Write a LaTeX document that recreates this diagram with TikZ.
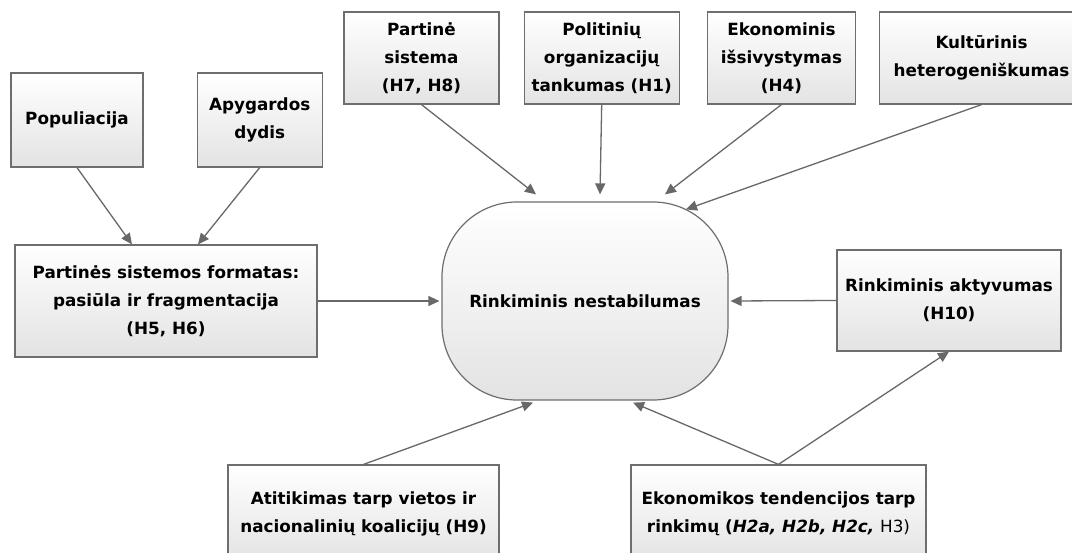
\documentclass[tikz,border=0pt]{standalone}
\usepackage{fontspec}
\setmainfont{DejaVu Sans}
\usetikzlibrary{arrows.meta,positioning}

\definecolor{boxline}{HTML}{6E6E6E}
\definecolor{boxfill}{HTML}{E3E3E3}
\definecolor{arrgray}{HTML}{686868}
\newcommand{\lbl}{\fontsize{16.8}{28}\selectfont\bfseries}

\tikzset{
  box/.style={draw=boxline,line width=1.2pt,top color=white,bottom color=boxfill,
    align=center,inner sep=0pt,font=\lbl},
  hub/.style={box,rounded corners=75pt},
  arr/.style={->,>={Triangle[length=11pt,width=10pt]},
    every edge/.style={draw=arrgray,line width=1.3pt}}
}

\begin{document}
\begin{tikzpicture}[x=1pt,y=-1pt]
  \useasboundingbox (0,0) rectangle (1072,553);
  \clip (0,0) rectangle (1072,553);
  % left column
  \node[box,minimum width=132pt,minimum height=94pt] (pop) at (77,120) {Populiacija};
  \node[box,minimum width=125pt,minimum height=94pt] (apy) [right=53pt of pop] {Apygardos\\dydis};
  \node[box,minimum width=302pt,minimum height=112pt] (form) at (166,301)
    {Partinės sistemos formatas:\\pasiūla ir fragmentacija\\(H5, H6)};
  % top row
  \node[box,minimum width=155pt,minimum height=92pt] (part) at (421.5,58) {Partinė\\sistema\\(H7, H8)};
  \node[box,minimum width=155pt,minimum height=92pt] (pol) [right=24pt of part] {Politinių\\organizacijų\\tankumas (H1)};
  \node[box,minimum width=148pt,minimum height=92pt] (eko) [right=27pt of pol] {Ekonominis\\išsivystymas\\(H4)};
  \node[box,minimum width=204pt,minimum height=92pt] (kult) [right=23pt of eko] {Kultūrinis\\heterogeniškumas};
  % centre and right
  \node[hub,minimum width=286pt,minimum height=198pt] (hub) at (585,301) {Rinkiminis nestabilumas};
  \node[box,minimum width=224pt,minimum height=101pt] (akt) at (949,300.5) {Rinkiminis aktyvumas\\(H10)};
  % bottom row
  \node[box,minimum width=271pt,minimum height=98pt] (atit) at (363.5,514)
    {Atitikimas tarp vietos ir\\nacionalinių koalicijų (H9)};
  \node[box,minimum width=295pt,minimum height=98pt] (ekt) at (778.5,514)
    {Ekonomikos tendencijos tarp\\rinkimų (\textit{H2a, H2b, H2c,} {\mdseries H3)}};

  \path[arr]
  (pop.south)  edge ([xshift=-34pt]form.north)
  (apy.south)  edge ([xshift=32pt]form.north)
  (part.south) edge ([xshift=-49pt,yshift=7pt]hub.north)
  (pol.south)  edge ([xshift=15pt,yshift=7pt]hub.north)
  (eko.south)  edge ([xshift=80pt,yshift=7pt]hub.north)
  (kult.south) edge ([xshift=101pt,yshift=-8pt]hub.north)
  (form.east)  edge ([xshift=-2pt]hub.west)
  (akt.west)   edge ([xshift=2pt]hub.east)
  (atit.north) edge ([xshift=-52pt,yshift=-2pt]hub.south)
  (ekt.north)  edge ([xshift=48pt,yshift=-2pt]hub.south)
  (ekt.north)  edge (akt.south);
\end{tikzpicture}
\end{document}
